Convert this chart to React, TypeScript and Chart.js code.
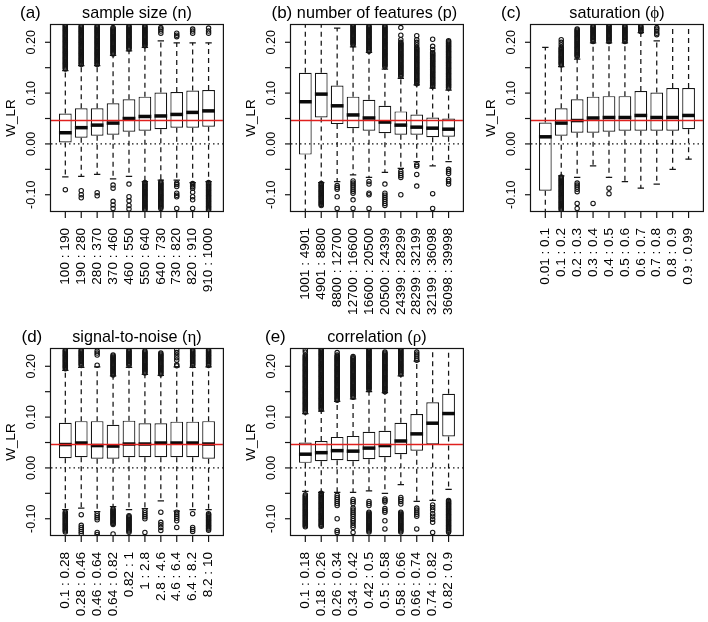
import React, { useEffect, useRef } from "react";
import { Chart, registerables } from "chart.js";

Chart.register(...registerables);

const SANS = '"Liberation Sans", Arial, Helvetica, sans-serif';
const SERIF = '"Liberation Serif", "DejaVu Serif", "Times New Roman", serif';

// ---------- shared axis data ----------
const Y_MIN = -0.132;
const Y_MAX = 0.234;
const REF_LINE = 0.046;
const Y_TICKS = [-0.1, -0.05, 0, 0.05, 0.1, 0.15, 0.2];
const Y_TICK_LABELS = ["-0.10", "", "0.00", "", "0.10", "", "0.20"];
const Y_TITLE = "W_LR";

// ---------- (a) sample size ----------
const labelsA = ["100 : 190", "190 : 280", "280 : 370", "370 : 460", "460 : 550", "550 : 640", "640 : 730", "730 : 820", "820 : 910", "910 : 1000"];
const q1A = [0.003, 0.012, 0.016, 0.018, 0.024, 0.026, 0.029, 0.032, 0.032, 0.034];
const medA = [0.022, 0.032, 0.037, 0.041, 0.050, 0.054, 0.055, 0.058, 0.062, 0.065];
const q3A = [0.060, 0.070, 0.070, 0.080, 0.088, 0.093, 0.101, 0.102, 0.105, 0.106];
const loA = [-0.065, -0.064, -0.060, -0.069, -0.064, -0.074, -0.071, -0.071, -0.076, -0.074];
const hiA = [0.144, 0.154, 0.154, 0.174, 0.183, 0.190, 0.203, 0.199, 0.199, 0.199];
const outA = [
  [-0.090],
  [-0.092, -0.100, -0.106],
  [-0.096, -0.102],
  [-0.081, -0.087, -0.113, -0.120, -0.127],
  [-0.079, -0.104, -0.112, -0.121, -0.128],
  [],
  [0.218, 0.222, 0.226, 0.229],
  [0.211, 0.214, 0.218, -0.077, -0.080, -0.084, -0.097, -0.101, -0.104, -0.127],
  [0.218, 0.222, 0.226, -0.078, -0.081, -0.084, -0.087, -0.095, -0.104, -0.110, -0.127],
  [0.218, 0.222, 0.228],
];
const denseA = [
  [[0.146, 0.234]],
  [[0.156, 0.232]],
  [[0.156, 0.232]],
  [[0.176, 0.229]],
  [[0.185, 0.232]],
  [[0.192, 0.232], [-0.132, -0.076]],
  [[-0.128, -0.075]],
  [],
  [],
  [[-0.132, -0.076]],
];

// ---------- (b) number of features ----------
const labelsB = ["1001 : 4901", "4901 : 8800", "8800 : 12700", "12700 : 16600", "16600 : 20500", "20500 : 24399", "24399 : 28299", "28299 : 32199", "32199 : 36098", "36098 : 39998"];
const q1B = [-0.021, 0.052, 0.039, 0.031, 0.026, 0.021, 0.018, 0.018, 0.013, 0.014];
const medB = [0.083, 0.098, 0.075, 0.057, 0.051, 0.043, 0.037, 0.033, 0.031, 0.029];
const q3B = [0.140, 0.140, 0.115, 0.093, 0.087, 0.075, 0.064, 0.058, 0.052, 0.050];
const loB = [-0.16, -0.076, -0.074, -0.061, -0.066, -0.056, -0.048, -0.035, -0.043, -0.035];
const hiB = [0.30, 0.30, 0.228, 0.191, 0.180, 0.147, 0.129, 0.116, 0.110, 0.106];
const outB = [
  [],
  [],
  [-0.082, -0.086, -0.089, -0.104, -0.127],
  [-0.073, -0.077, -0.081, -0.085, -0.089, -0.093, -0.097, -0.110, -0.127],
  [-0.074, -0.079, -0.097, -0.100, -0.127],
  [-0.079, -0.097, -0.101, -0.105, -0.109, -0.113, -0.117, -0.121],
  [0.205, 0.214, 0.229, -0.054, -0.058, -0.062, -0.066, -0.100],
  [0.195, 0.200, 0.205, 0.213, -0.041, -0.044, -0.060, -0.083],
  [0.186, 0.192, 0.206, -0.098, -0.127],
  [-0.050, -0.054, -0.058, -0.070, -0.074, -0.079],
];
const denseB = [
  [],
  [[-0.122, -0.078]],
  [],
  [[0.193, 0.234]],
  [[0.182, 0.232]],
  [[0.150, 0.232]],
  [[0.131, 0.200]],
  [[0.118, 0.190]],
  [[0.112, 0.180]],
  [[0.108, 0.203]],
];

// ---------- (c) saturation ----------
const labelsC = ["0.01 : 0.1", "0.1 : 0.2", "0.2 : 0.3", "0.3 : 0.4", "0.4 : 0.5", "0.5 : 0.6", "0.6 : 0.7", "0.7 : 0.8", "0.8 : 0.9", "0.9 : 0.99"];
const q1C = [-0.092, 0.016, 0.022, 0.022, 0.024, 0.026, 0.026, 0.026, 0.026, 0.029];
const medC = [0.014, 0.041, 0.046, 0.051, 0.052, 0.052, 0.056, 0.052, 0.052, 0.056];
const q3C = [0.042, 0.070, 0.088, 0.093, 0.094, 0.094, 0.104, 0.101, 0.110, 0.110];
const loC = [-0.16, -0.063, -0.066, -0.043, -0.066, -0.074, -0.087, -0.079, -0.050, -0.030];
const hiC = [0.190, 0.152, 0.167, 0.199, 0.199, 0.199, 0.219, 0.203, 0.30, 0.30];
const outC = [
  [],
  [0.195, 0.200, 0.205],
  [-0.077, -0.081, -0.085, -0.089, -0.094, -0.117, -0.127],
  [-0.117],
  [-0.087, -0.098],
  [],
  [],
  [0.215, 0.218, 0.222, 0.226, 0.229],
  [],
  [],
];
const denseC = [
  [],
  [[0.154, 0.190], [-0.132, -0.065]],
  [[0.170, 0.226]],
  [[0.201, 0.232]],
  [[0.201, 0.234]],
  [[0.200, 0.232]],
  [[0.221, 0.232]],
  [],
  [],
  [],
];

// ---------- (d) signal-to-noise ----------
const labelsD = ["0.1 : 0.28", "0.28 : 0.46", "0.46 : 0.64", "0.64 : 0.82", "0.82 : 1", "1 : 2.8", "2.8 : 4.6", "4.6 : 6.4", "6.4 : 8.2", "8.2 : 10"];
const q1D = [0.019, 0.021, 0.018, 0.018, 0.021, 0.021, 0.021, 0.021, 0.021, 0.018];
const medD = [0.046, 0.049, 0.044, 0.043, 0.047, 0.047, 0.049, 0.049, 0.049, 0.047];
const q3D = [0.089, 0.092, 0.092, 0.085, 0.093, 0.088, 0.088, 0.091, 0.091, 0.092];
const loD = [-0.082, -0.079, -0.086, -0.076, -0.082, -0.080, -0.065, -0.085, -0.082, -0.082];
const hiD = [0.192, 0.198, 0.199, 0.181, 0.198, 0.184, 0.182, 0.199, 0.198, 0.199];
const outD = [
  [],
  [-0.092, -0.113, -0.117, -0.121, -0.125, -0.129],
  [0.202, 0.222, 0.226, 0.230, -0.090, -0.094, -0.098, -0.102, -0.127, -0.131],
  [-0.130],
  [],
  [-0.084, -0.088, -0.092, -0.096, -0.100, -0.127],
  [-0.087, -0.107, -0.112, -0.117, -0.123],
  [0.212, 0.217, 0.222, 0.227, 0.232, -0.087, -0.091, -0.095, -0.099, -0.104, -0.117],
  [-0.090, -0.117, -0.121, -0.125],
  [],
];
const denseD = [
  [[0.194, 0.232], [-0.127, -0.087]],
  [[0.200, 0.232]],
  [],
  [[0.183, 0.222], [-0.113, -0.081]],
  [[0.200, 0.232], [-0.127, -0.094]],
  [[0.186, 0.230]],
  [[0.184, 0.226]],
  [[0.200, 0.203]],
  [[0.200, 0.232]],
  [[0.201, 0.232], [-0.123, -0.090]],
];

// ---------- (e) correlation ----------
const labelsE = ["0.1 : 0.18", "0.18 : 0.26", "0.26 : 0.34", "0.34 : 0.42", "0.42 : 0.5", "0.5 : 0.58", "0.58 : 0.66", "0.66 : 0.74", "0.74 : 0.82", "0.82 : 0.9"];
const q1E = [0.010, 0.013, 0.015, 0.013, 0.017, 0.021, 0.027, 0.034, 0.046, 0.062];
const medE = [0.027, 0.030, 0.034, 0.033, 0.039, 0.044, 0.053, 0.067, 0.088, 0.107];
const q3E = [0.050, 0.053, 0.061, 0.063, 0.071, 0.073, 0.089, 0.106, 0.129, 0.146];
const loE = [-0.046, -0.048, -0.048, -0.048, -0.045, -0.050, -0.033, -0.066, -0.064, -0.042];
const hiE = [0.107, 0.112, 0.131, 0.136, 0.150, 0.148, 0.181, 0.210, 0.30, 0.30];
const outE = [
  [0.228, 0.232],
  [],
  [0.227, -0.054, -0.058, -0.062, -0.066, -0.070, -0.074, -0.100, -0.123, -0.127],
  [-0.062, -0.066, -0.070, -0.079, -0.083, -0.087, -0.091, -0.095, -0.100, -0.104, -0.108, -0.113, -0.117, -0.127],
  [-0.066, -0.070, -0.074],
  [-0.061, -0.064, -0.067, -0.080, -0.084, -0.087, -0.104, -0.120],
  [-0.058, -0.062, -0.066, -0.071],
  [0.212, 0.216, 0.220, 0.224, 0.228, -0.079, -0.083, -0.087, -0.091, -0.095, -0.120],
  [-0.073, -0.078, -0.083, -0.090, -0.095, -0.101, -0.107, -0.127],
  [],
];
const denseE = [
  [[0.109, 0.222], [-0.117, -0.053]],
  [[0.114, 0.234], [-0.117, -0.050]],
  [[0.133, 0.222]],
  [[0.138, 0.219]],
  [[0.152, 0.234], [-0.127, -0.087]],
  [[0.150, 0.228]],
  [[0.183, 0.234], [-0.127, -0.087]],
  [],
  [],
  [[-0.127, -0.064]],
];

type PanelDef = {
  letter: string;
  title: [string, string, string];
  symSerif: boolean;
  labels: string[];
  q1: number[];
  med: number[];
  q3: number[];
  lo: number[];
  hi: number[];
  out: number[][];
  dense: number[][][];
};

const PANELS: PanelDef[] = [
  { letter: "(a)", title: ["sample size (", "n", ")"], symSerif: false, labels: labelsA, q1: q1A, med: medA, q3: q3A, lo: loA, hi: hiA, out: outA, dense: denseA },
  { letter: "(b)", title: ["number of features (", "p", ")"], symSerif: false, labels: labelsB, q1: q1B, med: medB, q3: q3B, lo: loB, hi: hiB, out: outB, dense: denseB },
  { letter: "(c)", title: ["saturation (", "\u03D5", ")"], symSerif: true, labels: labelsC, q1: q1C, med: medC, q3: q3C, lo: loC, hi: hiC, out: outC, dense: denseC },
  { letter: "(d)", title: ["signal-to-noise (", "\u03B7", ")"], symSerif: true, labels: labelsD, q1: q1D, med: medD, q3: q3D, lo: loD, hi: hiD, out: outD, dense: denseD },
  { letter: "(e)", title: ["correlation (", "\u03C1", ")"], symSerif: true, labels: labelsE, q1: q1E, med: medE, q3: q3E, lo: loE, hi: hiE, out: outE, dense: denseE },
];

// layout (positions only)
const PANEL_POS = [
  { left: 0, top: 0, h: 322, letterX: 20 },
  { left: 240, top: 0, h: 322, letterX: 31.5 },
  { left: 480, top: 0, h: 322, letterX: 21 },
  { left: 0, top: 324, h: 298, letterX: 21.5 },
  { left: 240, top: 324, h: 298, letterX: 25 },
];
const CANVAS_W = 228;
const PLOT_BOTTOM = 211;
const LINE = "#151515";

function makePlugin(p: PanelDef, letterX: number) {
  return {
    id: "boxplotExtras",
    beforeDatasetsDraw(chart: any) {
      const { ctx, chartArea: a } = chart;
      const x = chart.scales.x;
      const y = chart.scales.y;
      const half = x.getPixelForValue(1.4) - x.getPixelForValue(1);
      const cap = half / 2;
      ctx.save();
      ctx.beginPath();
      ctx.rect(a.left, a.top, a.right - a.left, a.bottom - a.top);
      ctx.clip();
      ctx.strokeStyle = LINE;
      p.labels.forEach((_, i) => {
        const cx = x.getPixelForValue(i + 1);
        const yq3 = y.getPixelForValue(p.q3[i]);
        const yq1 = y.getPixelForValue(p.q1[i]);
        const yh = y.getPixelForValue(p.hi[i]);
        const yl = y.getPixelForValue(p.lo[i]);
        ctx.lineWidth = 1.25;
        ctx.setLineDash([5, 4]);
        ctx.beginPath();
        ctx.moveTo(cx, yq3);
        ctx.lineTo(cx, yh);
        ctx.moveTo(cx, yq1);
        ctx.lineTo(cx, yl);
        ctx.stroke();
        ctx.setLineDash([]);
        ctx.beginPath();
        ctx.moveTo(cx - cap, yh);
        ctx.lineTo(cx + cap, yh);
        ctx.moveTo(cx - cap, yl);
        ctx.lineTo(cx + cap, yl);
        ctx.stroke();
        ctx.lineWidth = 1.1;
        p.dense[i].forEach(([lo, hi]) => {
          const top = y.getPixelForValue(hi);
          const bot = y.getPixelForValue(lo);
          for (let py = top; py <= bot + 0.01; py += 1.1) {
            ctx.beginPath();
            ctx.arc(cx, py, 2.2, 0, Math.PI * 2);
            ctx.stroke();
          }
        });
      });
      ctx.restore();
    },
    afterDatasetsDraw(chart: any) {
      const { ctx, chartArea: a } = chart;
      const x = chart.scales.x;
      const y = chart.scales.y;
      const half = x.getPixelForValue(1.4) - x.getPixelForValue(1);
      ctx.save();
      // medians
      ctx.strokeStyle = "#0a0a0a";
      ctx.lineWidth = 3.5;
      ctx.lineCap = "butt";
      p.labels.forEach((_, i) => {
        const cx = x.getPixelForValue(i + 1);
        const ym = y.getPixelForValue(p.med[i]);
        ctx.beginPath();
        ctx.moveTo(cx - half, ym);
        ctx.lineTo(cx + half, ym);
        ctx.stroke();
      });
      // zero dotted line
      const y0 = y.getPixelForValue(0);
      ctx.strokeStyle = LINE;
      ctx.lineWidth = 1.3;
      ctx.setLineDash([1.5, 3]);
      ctx.beginPath();
      ctx.moveTo(a.left, y0);
      ctx.lineTo(a.right, y0);
      ctx.stroke();
      ctx.setLineDash([]);
      // red reference line
      const yr = y.getPixelForValue(REF_LINE);
      ctx.strokeStyle = "#e0201e";
      ctx.lineWidth = 1.5;
      ctx.beginPath();
      ctx.moveTo(a.left, yr);
      ctx.lineTo(a.right, yr);
      ctx.stroke();
      // frame
      ctx.strokeStyle = LINE;
      ctx.lineWidth = 1.2;
      ctx.strokeRect(a.left - 0.5, a.top - 0.5, a.right - a.left + 1, a.bottom - a.top + 1);
      // x ticks + labels
      ctx.fillStyle = "#000";
      ctx.font = `13.6px ${SANS}`;
      p.labels.forEach((lab, i) => {
        const cx = x.getPixelForValue(i + 1);
        ctx.beginPath();
        ctx.moveTo(cx, a.bottom + 0.5);
        ctx.lineTo(cx, a.bottom + 7);
        ctx.stroke();
        ctx.save();
        ctx.translate(cx, a.bottom + 17);
        ctx.rotate(-Math.PI / 2);
        ctx.textAlign = "right";
        ctx.textBaseline = "middle";
        ctx.fillText(lab, 0, 0);
        ctx.restore();
      });
      // y ticks + labels
      ctx.font = `12.5px ${SANS}`;
      Y_TICKS.forEach((v, i) => {
        const py = y.getPixelForValue(v);
        ctx.beginPath();
        ctx.moveTo(a.left - 6, py);
        ctx.lineTo(a.left - 0.5, py);
        ctx.stroke();
        const lab = Y_TICK_LABELS[i];
        if (lab) {
          ctx.save();
          ctx.translate(a.left - 16.5, py);
          ctx.rotate(-Math.PI / 2);
          ctx.textAlign = "center";
          ctx.textBaseline = "alphabetic";
          ctx.fillText(lab, 0, 0);
          ctx.restore();
        }
      });
      // y title
      ctx.font = `13.5px ${SANS}`;
      ctx.save();
      ctx.translate(a.left - 36, (a.top + a.bottom) / 2);
      ctx.rotate(-Math.PI / 2);
      ctx.textAlign = "center";
      ctx.textBaseline = "alphabetic";
      ctx.fillText(Y_TITLE, 0, 0);
      ctx.restore();
      // title (centered over plot)
      const mainFont = `16.2px ${SANS}`;
      const symFont = p.symSerif ? `17px ${SERIF}` : mainFont;
      const [pre, sym, post] = p.title;
      ctx.font = mainFont;
      const w1 = ctx.measureText(pre).width;
      const w3 = ctx.measureText(post).width;
      ctx.font = symFont;
      const w2 = ctx.measureText(sym).width;
      const total = w1 + w2 + w3;
      let tx = (a.left + a.right) / 2 - total / 2;
      const ty = a.top - 7;
      ctx.textAlign = "left";
      ctx.textBaseline = "alphabetic";
      ctx.font = mainFont;
      ctx.fillText(pre, tx, ty);
      tx += w1;
      ctx.font = symFont;
      ctx.fillText(sym, tx, ty);
      tx += w2;
      ctx.font = mainFont;
      ctx.fillText(post, tx, ty);
      // panel letter
      ctx.font = `17px ${SANS}`;
      ctx.fillText(p.letter, letterX, ty);
      ctx.restore();
    },
  };
}

function Panel({ def, pos }: { def: PanelDef; pos: { left: number; top: number; h: number; letterX: number } }) {
  const ref = useRef<HTMLCanvasElement | null>(null);
  useEffect(() => {
    if (!ref.current) return;
    const n = def.labels.length;
    const boxes = def.labels.map((_, i) => ({ x: i + 1, y: [def.q1[i], def.q3[i]] }));
    const pts: { x: number; y: number }[] = [];
    def.out.forEach((vals, i) => vals.forEach((v) => pts.push({ x: i + 1, y: v })));
    const chart = new Chart(ref.current, {
      type: "bar",
      data: {
        datasets: [
          {
            type: "bar",
            data: boxes as any,
            backgroundColor: "#ffffff",
            borderColor: LINE,
            borderWidth: 1.2,
            borderSkipped: false,
            barPercentage: 1,
            categoryPercentage: 0.8,
            order: 2,
          } as any,
          {
            type: "scatter",
            data: pts,
            pointRadius: 2.2,
            pointBorderWidth: 1.1,
            pointBackgroundColor: "rgba(0,0,0,0)",
            pointBorderColor: LINE,
            order: 1,
          } as any,
        ],
      },
      options: {
        responsive: false,
        animation: false,
        events: [],
        layout: { padding: { left: 51, top: 25, right: 5, bottom: pos.h - PLOT_BOTTOM } },
        scales: {
          x: { type: "linear", min: 0.5 - 0.04 * n, max: n + 0.5 + 0.04 * n, offset: false, display: false },
          y: { type: "linear", min: Y_MIN, max: Y_MAX, display: false },
        },
        plugins: { legend: { display: false }, tooltip: { enabled: false }, title: { display: false } },
      } as any,
      plugins: [makePlugin(def, pos.letterX)],
    });
    return () => chart.destroy();
  }, [def, pos]);
  return (
    <canvas
      ref={ref}
      width={CANVAS_W}
      height={pos.h}
      style={{ position: "absolute", left: pos.left, top: pos.top, width: CANVAS_W, height: pos.h }}
    />
  );
}

export default function App() {
  return (
    <div style={{ position: "absolute", left: 0, top: 0, width: 708, height: 622, background: "#fff", overflow: "hidden" }}>
      {PANELS.map((d, i) => (
        <Panel key={d.letter} def={d} pos={PANEL_POS[i]} />
      ))}
    </div>
  );
}
